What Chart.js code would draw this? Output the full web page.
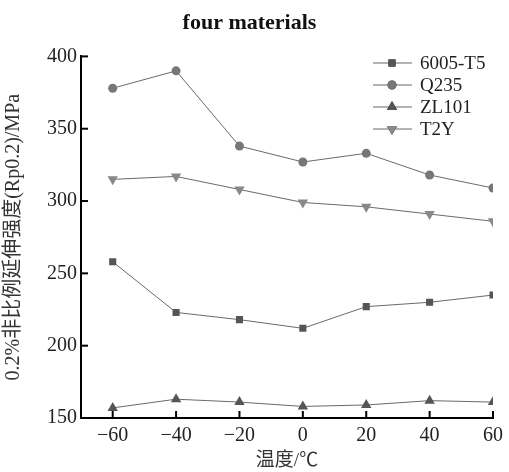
<!DOCTYPE html>
<html>
<head>
<meta charset="utf-8">
<script src="https://cdn.jsdelivr.net/npm/chart.js@4.4.0/dist/chart.umd.min.js"></script>
<style>
  html, body { margin: 0; padding: 0; background: #fff; }
  #wrap { width: 509px; height: 472px; }
</style>
</head>
<body>
<div id="wrap"><canvas id="chart"></canvas></div>
<script>
// Data
const temps = [-60, -40, -20, 0, 20, 40, 60];
const yTicks = [150, 200, 250, 300, 350, 400];
const seriesNames = ['6005-T5', 'Q235', 'ZL101', 'T2Y'];
const t5Values = [258, 223, 218, 212, 227, 230, 235];
const q235Values = [378, 390, 338, 327, 333, 318, 309];
const zl101Values = [157, 163, 161, 158, 159, 162, 161];
const t2yValues = [315, 317, 308, 299, 296, 291, 286];

const serif = '"Liberation Serif", "DejaVu Serif", serif';
const cjk = '"Liberation Serif", "Noto Sans CJK SC", serif';

function makeSet(label, values, style, color, radius) {
    return {
        label: label,
        data: values.map((v, i) => ({ x: temps[i], y: v })),
        borderColor: '#6a6a6a',
        borderWidth: 1,
        pointStyle: style,
        pointRadius: radius,
        pointBackgroundColor: color,
        pointBorderColor: color,
        pointBorderWidth: 0,
        tension: 0
    };
}

const datasets = [
    makeSet(seriesNames[0], t5Values, 'rect', '#555555', 5),
    makeSet(seriesNames[1], q235Values, 'circle', '#777777', 4.5),
    makeSet(seriesNames[2], zl101Values, 'triangle', '#555555', 6),
    makeSet(seriesNames[3], t2yValues, 'triangle', '#888888', 6)
];
datasets[3].pointRotation = 180;

// inward tick marks on both axes
const innerTicks = {
    id: 'innerTicks',
    afterDraw(chart) {
        const ctx = chart.ctx;
        const x = chart.scales.x, y = chart.scales.y;
        ctx.save();
        ctx.strokeStyle = '#000';
        ctx.lineWidth = 2;
        x.ticks.forEach(t => {
            const px = x.getPixelForValue(t.value);
            ctx.beginPath();
            ctx.moveTo(px, y.bottom);
            ctx.lineTo(px, y.bottom - 7);
            ctx.stroke();
        });
        y.ticks.forEach(t => {
            const py = y.getPixelForValue(t.value);
            ctx.beginPath();
            ctx.moveTo(x.left, py);
            ctx.lineTo(x.left + 7, py);
            ctx.stroke();
        });
        ctx.restore();
    }
};

// legend with line + marker, top right
const lineLegend = {
    id: 'lineLegend',
    afterDraw(chart) {
        const ctx = chart.ctx;
        ctx.save();
        ctx.font = '19px ' + serif;
        ctx.textBaseline = 'middle';
        chart.data.datasets.forEach((ds, i) => {
            const yy = 63 + i * 22;
            ctx.strokeStyle = '#6a6a6a';
            ctx.lineWidth = 1.2;
            ctx.beginPath();
            ctx.moveTo(373, yy);
            ctx.lineTo(412, yy);
            ctx.stroke();
            Chart.helpers.drawPoint(ctx, {
                pointStyle: ds.pointStyle,
                radius: ds.pointRadius,
                rotation: ds.pointRotation || 0,
                borderWidth: 0
            }, 392, yy);
            ctx.fillStyle = ds.pointBackgroundColor;
            ctx.fill();
            ctx.fillStyle = '#222';
            ctx.fillText(ds.label, 420, yy + 1);
        });
        ctx.restore();
    }
};

new Chart(document.getElementById('chart'), {
    type: 'line',
    data: { datasets: datasets },
    plugins: [innerTicks, lineLegend],
    options: {
        responsive: true,
        maintainAspectRatio: false,
        animation: false,
        layout: { padding: { top: 6, right: 12, left: 2, bottom: 0 } },
        plugins: {
            legend: { display: false },
            tooltip: { enabled: false },
            title: {
                display: true,
                text: 'four materials',
                color: '#111',
                font: { family: serif, size: 22, weight: 'bold' },
                padding: { top: 4, bottom: 20 }
            }
        },
        scales: {
            x: {
                type: 'linear',
                min: -70,
                max: 60,
                afterBuildTicks: axis => { axis.ticks = temps.map(v => ({ value: v })); },
                afterFit: axis => { axis.height = 54; },
                border: { color: '#000', width: 2 },
                grid: { display: false, drawTicks: false },
                ticks: {
                    color: '#222',
                    padding: 6,
                    maxRotation: 0,
                    font: { family: serif, size: 20 }
                    ,
                    callback: v => (v < 0 ? '\u2212' + Math.abs(v) : String(v))
                },
                title: {
                    display: true,
                    text: '温度/℃',
                    color: '#333',
                    font: { family: cjk, size: 19 },
                    padding: { top: 0, bottom: 0 }
                }
            },
            y: {
                min: 150,
                max: 400,
                afterBuildTicks: axis => { axis.ticks = yTicks.map(v => ({ value: v })); },
                afterFit: axis => { axis.width = 79; },
                border: { color: '#000', width: 2 },
                grid: { display: false, drawTicks: false },
                ticks: {
                    color: '#222',
                    padding: 4,
                    font: { family: serif, size: 20 }
                },
                title: {
                    display: true,
                    text: '0.2%非比例延伸强度(Rp0.2)/MPa',
                    color: '#333',
                    font: { family: cjk, size: 20 },
                    padding: { top: 0, bottom: 2 }
                }
            }
        }
    }
});
</script>
</body>
</html>
